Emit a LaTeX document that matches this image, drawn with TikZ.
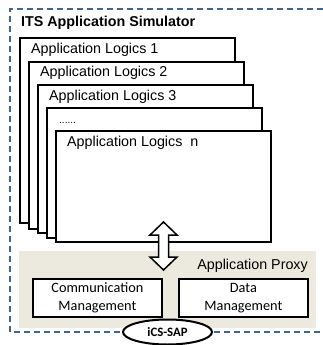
\documentclass[tikz,border=0pt]{standalone}
\usepackage{fontspec}
\setmainfont{Liberation Sans}
\newfontfamily\calib{Carlito}
\usetikzlibrary{shapes.geometric}
\definecolor{dashblue}{HTML}{41648F}
\definecolor{proxybg}{HTML}{ECEADF}
\begin{document}
\begin{tikzpicture}[x=1pt,y=-1pt,
  font=\fontsize{14.3}{17}\selectfont,
  logic/.style={draw, line width=2pt, fill=white, anchor=north west, inner sep=0, minimum width=215pt},
  lbl/.style={anchor=base west, inner sep=0},
  mgmt/.style={draw, line width=1.8pt, fill=white, inner sep=0, minimum width=129pt, minimum height=38pt,
    anchor=north west, align=center, font=\calib\fontsize{14.3}{18}\selectfont}]
\useasboundingbox (0,0) rectangle (323,345);
% outer dashed frame (right edge lies outside the picture)
\coordinate (fr) at (323,9);
\coordinate (br) at (323,332);
\draw[dashblue, line width=2pt, dash pattern=on 6pt off 4pt] (fr) -- (10,9) -- (10,332) -- (br);
\node[lbl, font=\bfseries\fontsize{14.3}{17}\selectfont] (title) at (21,27) {ITS Application Simulator};
% proxy area
\node[fill=proxybg, anchor=north west, minimum width=297pt, minimum height=77pt, inner sep=0] (proxy) at (19,251) {};
% stacked logic boxes
\node[logic, minimum height=185pt] (b1) at (19,37) {};
\node[lbl] (l1) at (31,53) {Application Logics 1};
\node[logic, minimum height=167pt] (b2) at (28,61) {};
\node[lbl] (l2) at (40,77) {Application Logics 2};
\node[logic, minimum height=148pt] (b3) at (37,84) {};
\node[lbl] (l3) at (49,100) {Application Logics 3};
\node[logic, minimum height=130pt] (b4) at (46,107) {};
\node[lbl, font=\fontsize{10}{12}\selectfont] (l4) at (59,123) {......};
\node[logic, minimum height=111pt] (b5) at (55,130) {};
\node[lbl] (l5) at (67,146) {Application Logics\ \ n};
% double arrow
\draw[line width=1.5pt, fill=white, line join=miter]
  (163.5,222) -- (177,235) -- (168.5,235) -- (168.5,257) -- (177,257) -- (163.5,270)
  -- (150,257) -- (158.5,257) -- (158.5,235) -- (150,235) -- cycle;
\node[anchor=base east, inner sep=0] (ptitle) at (308,269) {Application Proxy};
\node[mgmt] (comm) at (32,278) {Communication\\Management};
\node[mgmt] (data) at (178,278) {Data\\Management};
\node[ellipse, draw, line width=2pt, fill=white, minimum width=89pt, minimum height=25pt, inner sep=0,
  font=\calib\bfseries\fontsize{12.8}{14}\selectfont] (sap) at (167.5,332) {iCS-SAP};
\end{tikzpicture}
\end{document}
